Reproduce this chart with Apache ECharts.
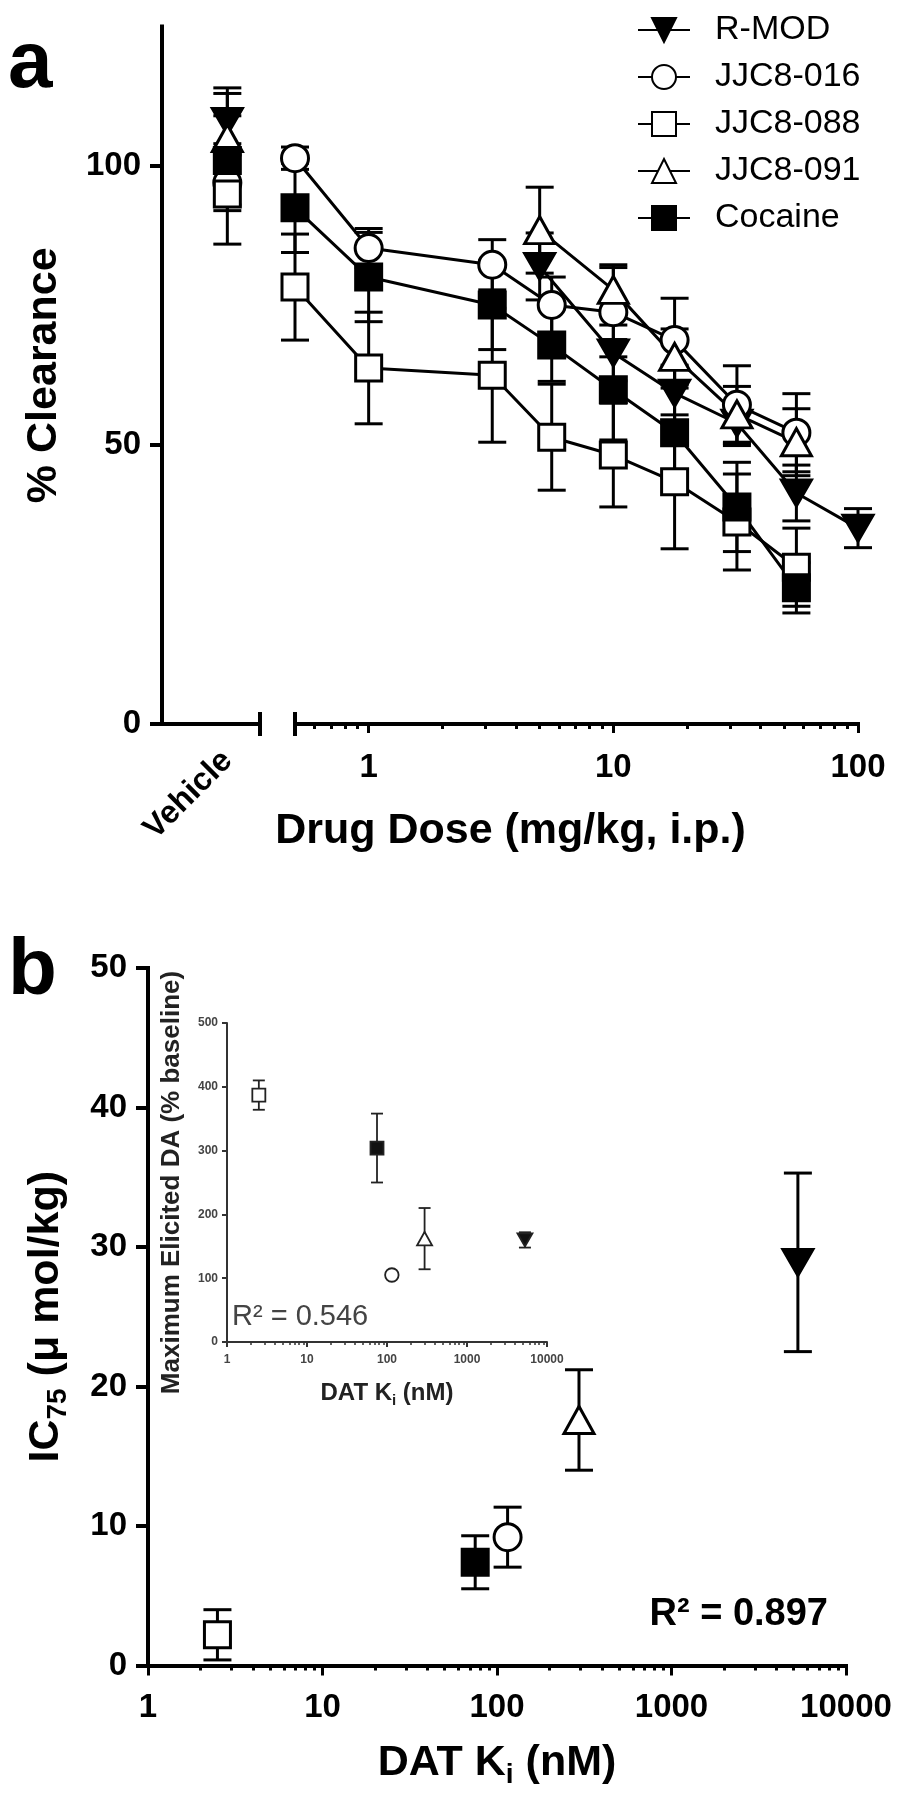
<!DOCTYPE html>
<html><head><meta charset="utf-8">
<script src="https://cdn.jsdelivr.net/npm/echarts@6/dist/echarts.min.js"></script>
<style>html,body{margin:0;padding:0;background:#fff}#c{width:902px;height:1800px}</style>
</head><body><div id="c"></div>
<script>
// ---------- data ----------
const compounds = ['R-MOD', 'JJC8-016', 'JJC8-088', 'JJC8-091', 'Cocaine'];

// Panel a: vehicle (% clearance, SEM), one per compound
const vehicleMean = [108, 97, 95, 105, 101];
const vehicleSem = [6, 5, 9, 8, 8];

// Panel a: dose (mg/kg) vs % clearance
const rmodDose = [5, 10, 17.8, 32, 56, 100];
const rmodMean = [82, 66.5, 59.3, 53.9, 41.4, 35.1];
const rmodSem = [6, 5, 5, 4, 5, 3.5];
const jjc016Dose = [0.5, 1, 3.2, 5.6, 10, 17.8, 32, 56];
const jjc016Mean = [101.4, 85.3, 82.3, 75.1, 73.8, 68.8, 57.2, 52.2];
const jjc016Sem = [2, 3.5, 4.5, 5, 8, 7.5, 7, 7];
const jjc088Dose = [0.5, 1, 3.2, 5.6, 10, 17.8, 32, 56];
const jjc088Mean = [78.3, 63.8, 62.5, 51.4, 48.2, 43.4, 36.2, 28.1];
const jjc088Sem = [9.5, 10, 12, 9.5, 9.3, 12, 8.6, 7];
const jjc091Dose = [5, 10, 17.8, 32, 56];
const jjc091Mean = [88.5, 77.8, 65.8, 55.5, 50.5];
const jjc091Sem = [7.7, 4.5, 5, 5, 6];
const cocaineDose = [0.5, 1, 3.2, 5.6, 10, 17.8, 32, 56];
const cocaineMean = [92.5, 80.1, 75.1, 67.9, 59.9, 52.2, 38.9, 24.4];
const cocaineSem = [8, 8, 8, 6.5, 9, 8, 8, 4.5];

// Panel b: DAT Ki (nM), IC75 (umol/kg), inset max elicited DA (% baseline)
const datKi = [5300, 115, 2.5, 295, 75];
const ic75Mean = [28.9, 9.2, 2.2, 17.6, 7.4];
const ic75Sem = [6.4, 2.15, 1.8, 3.6, 1.9];
const maxDaMean = [160, 105, 387, 162, 304];
const maxDaSem = [12, 0, 23, 48, 54];

// tick values / labels
const clearanceTicks = [0, 50, 100];
const vehicleTick = [0];
const vehicleLabel = 'Vehicle';
const doseMajorTicks = [1, 10, 100];
const doseMinorTicks = [0.6, 0.7, 0.8, 0.9, 2, 3, 4, 5, 6, 7, 8, 9, 20, 30, 40, 50, 60, 70, 80, 90];
const kiMajorTicks = [1, 10, 100, 1000, 10000];
const kiMinorTicks = [2, 3, 4, 5, 6, 7, 8, 9, 20, 30, 40, 50, 60, 70, 80, 90, 200, 300, 400, 500, 600, 700, 800, 900, 2000, 3000, 4000, 5000, 6000, 7000, 8000, 9000];
const r2Main = 'R² = 0.897';
const r2Inset = 'R² = 0.546';

// ---------- styling ----------
const FONT = 'Liberation Sans, Arial, Helvetica, sans-serif';
const triDown = 'path://M0,0L10,0L5,8.66Z';
const markStyle = {
  'R-MOD': {symbol: triDown, fill: '#000', size: [30, 26]},
  'JJC8-016': {symbol: 'circle', fill: '#fff', size: 27},
  'JJC8-088': {symbol: 'rect', fill: '#fff', size: 26},
  'JJC8-091': {symbol: 'triangle', fill: '#fff', size: [30, 27]},
  'Cocaine': {symbol: 'rect', fill: '#000', size: 26}
};
const doseSeries = [
  [rmodDose, rmodMean, rmodSem],
  [jjc016Dose, jjc016Mean, jjc016Sem],
  [jjc088Dose, jjc088Mean, jjc088Sem],
  [jjc091Dose, jjc091Mean, jjc091Sem],
  [cocaineDose, cocaineMean, cocaineSem]
];

function errRender(capHalf, lw, color) {
  return function (params, api) {
    const x = api.value(0), lo = api.value(1), hi = api.value(2);
    const a = api.coord([x, hi]), b = api.coord([x, lo]);
    const st = {stroke: color, lineWidth: lw};
    return {type: 'group', children: [
      {type: 'line', shape: {x1: a[0], y1: a[1], x2: b[0], y2: b[1]}, style: st},
      {type: 'line', shape: {x1: a[0] - capHalf, y1: a[1], x2: a[0] + capHalf, y2: a[1]}, style: st},
      {type: 'line', shape: {x1: b[0] - capHalf, y1: b[1], x2: b[0] + capHalf, y2: b[1]}, style: st}
    ]};
  };
}
const plain = function (v) { return String(v); };

const tickFont = {fontFamily: FONT, fontSize: 33, fontWeight: 'bold', color: '#000'};
const titleFont = {fontFamily: FONT, fontSize: 43, fontWeight: 'bold', color: '#000'};
const blackLine = {show: true, onZero: false, lineStyle: {color: '#000', width: 4, cap: 'square'}};
const hideLine = {show: false};
const noLabel = {show: false};

function tickAxis(grid, type, min, max, values, len, inside, width, color) {
  return {
    gridIndex: grid, type: type, min: min, max: max, position: 'bottom',
    axisLine: hideLine, splitLine: {show: false}, axisLabel: noLabel,
    axisTick: {show: true, customValues: values, length: len, inside: inside,
      lineStyle: {color: color || '#000', width: width || 3}}
  };
}

const inset = {font: 12, color: '#444'};

const option = {
  animation: false,
  backgroundColor: '#fff',
  textStyle: {fontFamily: FONT, color: '#000'},
  title: [
    {text: 'a', left: 8, top: 25, padding: 0, textStyle: {fontFamily: FONT, fontSize: 80, fontWeight: 'bold', color: '#000'}},
    {text: 'b', left: 8, top: 932, padding: 0, textStyle: {fontFamily: FONT, fontSize: 80, fontWeight: 'bold', color: '#000'}},
    {text: r2Main, right: 74, top: 1596, padding: 0, textStyle: {fontFamily: FONT, fontSize: 38, fontWeight: 'bold', color: '#000'}},
    {text: r2Inset, left: 232, top: 1302, padding: 0, textStyle: {fontFamily: FONT, fontSize: 29, fontWeight: 'normal', color: '#444'}}
  ],
  legend: {
    data: compounds, orient: 'vertical', left: 632, top: 8,
    itemWidth: 52, itemHeight: 30, itemGap: 13,
    textStyle: {fontFamily: FONT, fontSize: 34, color: '#000', padding: [0, 0, 0, 20]}
  },
  grid: [
    {left: 162, top: 26.5, width: 98, height: 697.5, containLabel: false, outerBoundsMode: 'none'},
    {left: 295, top: 26.5, width: 563, height: 697.5, containLabel: false, outerBoundsMode: 'none'},
    {left: 148, top: 968, width: 698, height: 697.5, containLabel: false, outerBoundsMode: 'none'},
    {left: 227, top: 1023, width: 320, height: 319, containLabel: false, outerBoundsMode: 'none'}
  ],
  xAxis: [
    // 0: vehicle segment
    {gridIndex: 0, type: 'value', min: -2, max: 1, position: 'bottom', axisLine: blackLine, splitLine: {show: false},
      axisTick: {show: true, customValues: [1], length: 12, lineStyle: {color: '#000', width: 4}},
      axisLabel: {customValues: vehicleTick, formatter: function () { return vehicleLabel; }, rotate: 45, margin: 32, ...tickFont, fontSize: 32}},
    // 1: vehicle segment end cap (up)
    tickAxis(0, 'value', -2, 1, [1], 12, true, 4),
    // 2: dose log axis
    {gridIndex: 1, type: 'log', logBase: 10, min: 0.5, max: 100, position: 'bottom', axisLine: blackLine, splitLine: {show: false},
      axisTick: {show: true, customValues: doseMajorTicks, length: 9, lineStyle: {color: '#000', width: 3}},
      axisLabel: {customValues: doseMajorTicks, formatter: plain, margin: 27, ...tickFont},
      name: 'Drug Dose (mg/kg, i.p.)', nameLocation: 'middle', nameGap: 86,
      nameTextStyle: {...titleFont, padding: [0, 132, 0, 0]}},
    // 3: dose minor ticks
    tickAxis(1, 'log', 0.5, 100, doseMinorTicks, 5, false, 3),
    // 4,5: start cap
    tickAxis(1, 'log', 0.5, 100, [0.5], 12, false, 4),
    tickAxis(1, 'log', 0.5, 100, [0.5], 12, true, 4),
    // 6: Ki main
    {gridIndex: 2, type: 'log', logBase: 10, min: 1, max: 10000, position: 'bottom', axisLine: blackLine, splitLine: {show: false},
      axisTick: {show: true, customValues: kiMajorTicks, length: 10, lineStyle: {color: '#000', width: 3}},
      axisLabel: {customValues: kiMajorTicks, formatter: plain, margin: 26, ...tickFont},
      name: 'DAT K{sub|i} (nM)', nameLocation: 'middle', nameGap: 72,
      nameTextStyle: {...titleFont, lineHeight: 52, rich: {sub: {fontFamily: FONT, fontSize: 28, fontWeight: 'bold', color: '#000', verticalAlign: 'bottom', lineHeight: 28}}}},
    // 7: Ki minor
    tickAxis(2, 'log', 1, 10000, kiMinorTicks, 5, false, 3),
    // 8: inset Ki
    {gridIndex: 3, type: 'log', logBase: 10, min: 1, max: 10000, position: 'bottom',
      axisLine: {show: true, onZero: false, lineStyle: {color: '#333', width: 2}}, splitLine: {show: false},
      axisTick: {show: true, customValues: kiMajorTicks, length: 5, lineStyle: {color: '#333', width: 2}},
      axisLabel: {customValues: kiMajorTicks, formatter: plain, margin: 12, fontFamily: FONT, fontSize: inset.font, fontWeight: 'bold', color: inset.color},
      name: 'DAT K{sub|i} (nM)', nameLocation: 'middle', nameGap: 36,
      nameTextStyle: {fontFamily: FONT, fontSize: 24, fontWeight: 'bold', color: '#222', lineHeight: 30,
        rich: {sub: {fontFamily: FONT, fontSize: 15, fontWeight: 'bold', color: '#222', verticalAlign: 'bottom', lineHeight: 15}}}},
    // 9: inset minor
    tickAxis(3, 'log', 1, 10000, kiMinorTicks, 3, false, 1.5, '#333')
  ],
  yAxis: [
    {gridIndex: 0, type: 'value', min: 0, max: 125, axisLine: blackLine, splitLine: {show: false},
      axisTick: {show: true, customValues: clearanceTicks, length: 12, lineStyle: {color: '#000', width: 4}},
      axisLabel: {customValues: clearanceTicks, margin: 21, ...tickFont},
      name: '% Clearance', nameLocation: 'middle', nameRotate: 90, nameGap: 96, nameTextStyle: titleFont},
    {gridIndex: 1, type: 'value', min: 0, max: 125, show: false},
    {gridIndex: 2, type: 'value', min: 0, max: 50, interval: 10, axisLine: blackLine, splitLine: {show: false},
      axisTick: {show: true, length: 12, lineStyle: {color: '#000', width: 4}},
      axisLabel: {margin: 21, ...tickFont},
      name: 'IC{sub|75} (μ mol/kg)', nameLocation: 'middle', nameRotate: 90, nameGap: 76,
      nameTextStyle: {...titleFont, lineHeight: 52, rich: {sub: {fontFamily: FONT, fontSize: 28, fontWeight: 'bold', color: '#000', verticalAlign: 'bottom', lineHeight: 28}}}},
    {gridIndex: 3, type: 'value', min: 0, max: 500, interval: 100,
      axisLine: {show: true, onZero: false, lineStyle: {color: '#333', width: 2}}, splitLine: {show: false},
      axisTick: {show: true, length: 5, lineStyle: {color: '#333', width: 2}},
      axisLabel: {margin: 9, fontFamily: FONT, fontSize: inset.font, fontWeight: 'bold', color: inset.color},
      name: 'Maximum Elicited DA (% baseline)', nameLocation: 'middle', nameRotate: 90, nameGap: 42,
      nameTextStyle: {fontFamily: FONT, fontSize: 26, fontWeight: 'bold', color: '#222'}}
  ],
  series: []
};

// Panel a: dose-response lines (first, so legend icons come from them)
compounds.forEach(function (name, i) {
  const s = doseSeries[i];
  const st = markStyle[name];
  option.series.push({
    type: 'line', name: name, xAxisIndex: 2, yAxisIndex: 1, clip: false, z: 3,
    symbol: st.symbol, symbolSize: st.size, showAllSymbol: true,
    lineStyle: {color: '#000', width: 3},
    itemStyle: {color: st.fill, borderColor: '#000', borderWidth: 3},
    data: s[0].map(function (d, k) { return [d, s[1][k]]; })
  });
});
compounds.forEach(function (name, i) {
  const s = doseSeries[i];
  option.series.push({
    type: 'custom', name: name + ' err', xAxisIndex: 2, yAxisIndex: 1, clip: false, z: 1,
    renderItem: errRender(14, 3, '#000'),
    encode: {x: 0, y: [1, 2]},
    data: s[0].map(function (d, k) { return [d, s[1][k] - s[2][k], s[1][k] + s[2][k]]; })
  });
});

// Panel a: vehicle
option.series.push({
  type: 'custom', name: 'vehicle err', xAxisIndex: 0, yAxisIndex: 0, clip: false, z: 1,
  renderItem: errRender(14, 3, '#000'), encode: {x: 0, y: [1, 2]},
  data: compounds.map(function (n, i) { return [vehicleTick[0], vehicleMean[i] - vehicleSem[i], vehicleMean[i] + vehicleSem[i]]; })
});
compounds.forEach(function (name, i) {
  const st = markStyle[name];
  option.series.push({
    type: 'scatter', name: name + ' vehicle', xAxisIndex: 0, yAxisIndex: 0, clip: false, z: 3,
    symbol: st.symbol, symbolSize: st.size,
    itemStyle: {color: st.fill, borderColor: '#000', borderWidth: 3, opacity: 1},
    data: [[vehicleTick[0], vehicleMean[i]]]
  });
});

// Panel b: IC75 vs Ki
option.series.push({
  type: 'custom', name: 'ic75 err', xAxisIndex: 6, yAxisIndex: 2, clip: false, z: 1,
  renderItem: errRender(14, 3, '#000'), encode: {x: 0, y: [1, 2]},
  data: compounds.map(function (n, i) { return [datKi[i], ic75Mean[i] - ic75Sem[i], ic75Mean[i] + ic75Sem[i]]; })
});
compounds.forEach(function (name, i) {
  const st = markStyle[name];
  option.series.push({
    type: 'scatter', name: name + ' ic75', xAxisIndex: 6, yAxisIndex: 2, clip: false, z: 3,
    symbol: st.symbol, symbolSize: st.size,
    itemStyle: {color: st.fill, borderColor: '#000', borderWidth: 3, opacity: 1},
    data: [[datKi[i], ic75Mean[i]]]
  });
});

// Inset: max DA vs Ki
option.series.push({
  type: 'custom', name: 'da err', xAxisIndex: 8, yAxisIndex: 3, clip: false, z: 1,
  renderItem: errRender(6, 1.8, '#222'), encode: {x: 0, y: [1, 2]},
  data: compounds.map(function (n, i) { return [datKi[i], maxDaMean[i] - maxDaSem[i], maxDaMean[i] + maxDaSem[i]]; })
});
compounds.forEach(function (name, i) {
  const st = markStyle[name];
  const sz = Array.isArray(st.size) ? [st.size[0] * 0.5, st.size[1] * 0.5] : st.size * 0.5;
  option.series.push({
    type: 'scatter', name: name + ' da', xAxisIndex: 8, yAxisIndex: 3, clip: false, z: 3,
    symbol: st.symbol, symbolSize: sz,
    itemStyle: {color: st.fill === '#000' ? '#111' : '#fff', borderColor: '#222', borderWidth: 1.8, opacity: 1},
    data: [[datKi[i], maxDaMean[i]]]
  });
});

const chart = echarts.init(document.getElementById('c'), null, {renderer: 'canvas', width: 902, height: 1800});
chart.setOption(option);
</script></body></html>
